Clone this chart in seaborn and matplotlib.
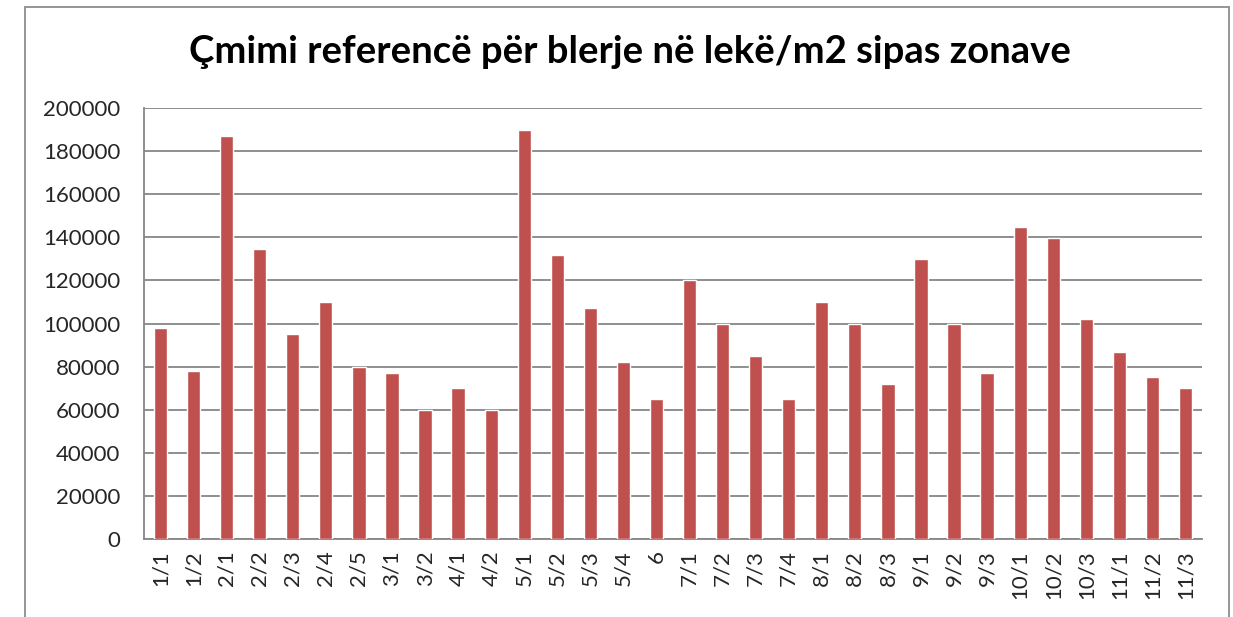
import matplotlib
matplotlib.use("Agg")
import matplotlib.pyplot as plt
import seaborn as sns
import pandas as pd
import numpy as np
from matplotlib.patches import Rectangle
from matplotlib.ticker import MultipleLocator, FixedLocator

# zones and reference price (lekë/m2)
zones = ['1/1', '1/2', '2/1', '2/2', '2/3', '2/4', '2/5', '3/1', '3/2', '4/1', '4/2',
         '5/1', '5/2', '5/3', '5/4', '6', '7/1', '7/2', '7/3', '7/4', '8/1', '8/2', '8/3',
         '9/1', '9/2', '9/3', '10/1', '10/2', '10/3', '11/1', '11/2', '11/3']
prices = [97700, 78000, 187000, 134400, 95000, 110000, 80000, 77000, 60000, 70000, 60000,
          190000, 132000, 107000, 82000, 65000, 120000, 100000, 85000, 65000, 110000, 100000, 72000,
          130000, 100000, 77000, 145000, 139500, 102000, 87000, 75000, 70000]
title = "Çmimi referencë për blerje në lekë/m2 sipas zonave"

df = pd.DataFrame({'zona': zones, 'cmimi': prices})

sns.set_style('white')
plt.rcParams['font.family'] = ['Lato', 'DejaVu Sans']

fig = plt.figure(figsize=(12.33, 6.17), dpi=100)
ax = fig.add_axes([144/1233, 1 - 539/617, (1202 - 144)/1233, (539 - 108)/617])

sns.barplot(data=df, x='zona', y='cmimi', color='#C0504D', saturation=1,
            width=0.4, ax=ax, zorder=3)

grid_c = '#868686'
ax.set_ylim(0, 200000)
ax.set_xlim(-0.5, len(zones) - 0.5)
ax.yaxis.set_major_locator(MultipleLocator(20000))
ax.yaxis.grid(True, color=grid_c, linewidth=1.3, zorder=0)
ax.set_axisbelow(True)

ax.set_xlabel('')
ax.set_ylabel('')
ax.tick_params(axis='x', which='major', length=0, pad=8, labelsize=16, labelrotation=90)
ax.xaxis.set_minor_locator(FixedLocator(np.arange(-0.5, len(zones), 1)))
ax.tick_params(axis='x', which='minor', length=6, width=1.3, color=grid_c, direction='out')
ax.tick_params(axis='y', length=7, width=1.3, color=grid_c, direction='out', pad=10, labelsize=16)
for lbl in ax.get_xticklabels():
    lbl.set_va('top')

for side in ['top', 'right']:
    ax.spines[side].set_visible(False)
for side in ['left', 'bottom']:
    ax.spines[side].set_color(grid_c)
    ax.spines[side].set_linewidth(1.3)

fig.text(630/1233, 1 - 52/617, title, ha='center', va='center',
         fontsize=27.5, fontweight='bold', color='black')

# outer chart frame
fig.patches.append(Rectangle((25/1233, -0.1), (1229 - 25)/1233, 1.1 - 7/617,
                             transform=fig.transFigure, fill=False,
                             edgecolor='#8c8c8c', linewidth=1.3))

fig.savefig('out.png', dpi=100, facecolor='white')
